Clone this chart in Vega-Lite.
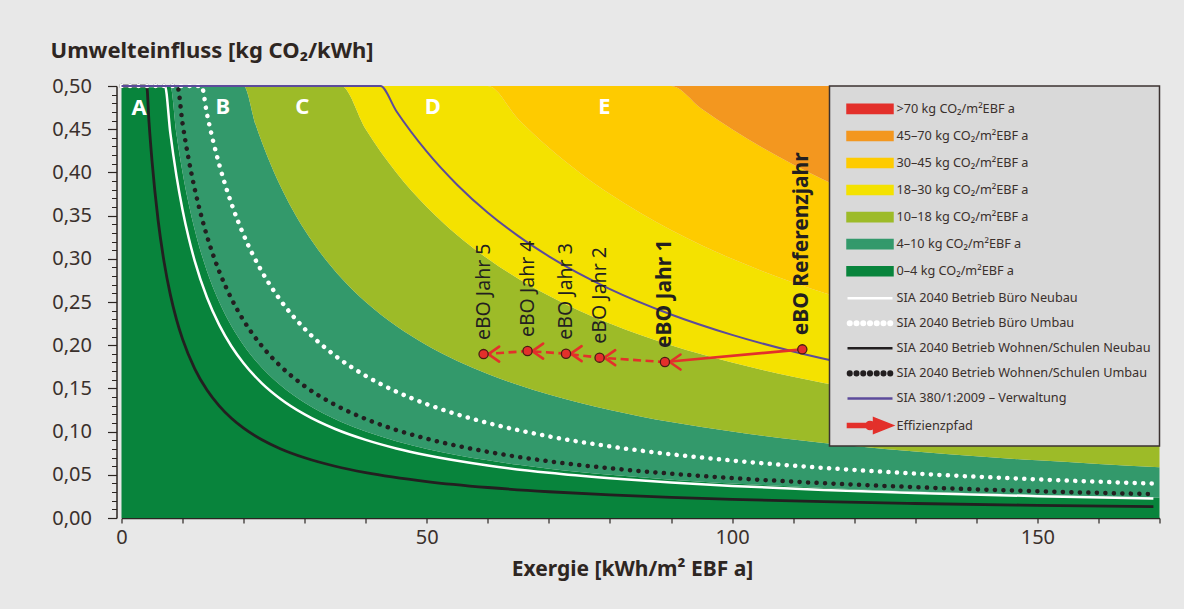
{
  "$schema": "https://vega.github.io/schema/vega-lite/v6.json",
  "width": 1038,
  "height": 432,
  "autosize": {"type": "none"},
  "padding": {"left": 121.5, "top": 86, "right": 24.5, "bottom": 91},
  "background": "#e8e8e8",
  "config": {
    "view": {"stroke": null},
    "font": "Noto Sans",
    "legend": {"strokeWidth": 1.5}
  },
  "datasets": {
    "bands": [
      {"x": 0, "c4": 0.5, "c10": 0.5, "c18": 0.5, "c30": 0.5, "c45": 0.5, "c70": 0.5},
      {"x": 8, "c4": 0.5, "c10": 0.5, "c18": 0.5, "c30": 0.5, "c45": 0.5, "c70": 0.5},
      {"x": 9, "c4": 0.4444, "c10": 0.5, "c18": 0.5, "c30": 0.5, "c45": 0.5, "c70": 0.5},
      {"x": 10, "c4": 0.4, "c10": 0.5, "c18": 0.5, "c30": 0.5, "c45": 0.5, "c70": 0.5},
      {"x": 11, "c4": 0.3636, "c10": 0.5, "c18": 0.5, "c30": 0.5, "c45": 0.5, "c70": 0.5},
      {"x": 12, "c4": 0.3333, "c10": 0.5, "c18": 0.5, "c30": 0.5, "c45": 0.5, "c70": 0.5},
      {"x": 13, "c4": 0.3077, "c10": 0.5, "c18": 0.5, "c30": 0.5, "c45": 0.5, "c70": 0.5},
      {"x": 14, "c4": 0.2857, "c10": 0.5, "c18": 0.5, "c30": 0.5, "c45": 0.5, "c70": 0.5},
      {"x": 16, "c4": 0.25, "c10": 0.5, "c18": 0.5, "c30": 0.5, "c45": 0.5, "c70": 0.5},
      {"x": 18, "c4": 0.2222, "c10": 0.5, "c18": 0.5, "c30": 0.5, "c45": 0.5, "c70": 0.5},
      {"x": 20, "c4": 0.2, "c10": 0.5, "c18": 0.5, "c30": 0.5, "c45": 0.5, "c70": 0.5},
      {"x": 22, "c4": 0.1818, "c10": 0.4545, "c18": 0.5, "c30": 0.5, "c45": 0.5, "c70": 0.5},
      {"x": 24, "c4": 0.1667, "c10": 0.4167, "c18": 0.5, "c30": 0.5, "c45": 0.5, "c70": 0.5},
      {"x": 26, "c4": 0.1538, "c10": 0.3846, "c18": 0.5, "c30": 0.5, "c45": 0.5, "c70": 0.5},
      {"x": 28, "c4": 0.1429, "c10": 0.3571, "c18": 0.5, "c30": 0.5, "c45": 0.5, "c70": 0.5},
      {"x": 30, "c4": 0.1333, "c10": 0.3333, "c18": 0.5, "c30": 0.5, "c45": 0.5, "c70": 0.5},
      {"x": 33, "c4": 0.1212, "c10": 0.303, "c18": 0.5, "c30": 0.5, "c45": 0.5, "c70": 0.5},
      {"x": 36, "c4": 0.1111, "c10": 0.2778, "c18": 0.5, "c30": 0.5, "c45": 0.5, "c70": 0.5},
      {"x": 40, "c4": 0.1, "c10": 0.25, "c18": 0.45, "c30": 0.5, "c45": 0.5, "c70": 0.5},
      {"x": 45, "c4": 0.0889, "c10": 0.2222, "c18": 0.4, "c30": 0.5, "c45": 0.5, "c70": 0.5},
      {"x": 50, "c4": 0.08, "c10": 0.2, "c18": 0.36, "c30": 0.5, "c45": 0.5, "c70": 0.5},
      {"x": 55, "c4": 0.0727, "c10": 0.1818, "c18": 0.3273, "c30": 0.5, "c45": 0.5, "c70": 0.5},
      {"x": 60, "c4": 0.0667, "c10": 0.1667, "c18": 0.3, "c30": 0.5, "c45": 0.5, "c70": 0.5},
      {"x": 65, "c4": 0.0615, "c10": 0.1538, "c18": 0.2769, "c30": 0.4615, "c45": 0.5, "c70": 0.5},
      {"x": 70, "c4": 0.0571, "c10": 0.1429, "c18": 0.2571, "c30": 0.4286, "c45": 0.5, "c70": 0.5},
      {"x": 75, "c4": 0.0533, "c10": 0.1333, "c18": 0.24, "c30": 0.4, "c45": 0.5, "c70": 0.5},
      {"x": 80, "c4": 0.05, "c10": 0.125, "c18": 0.225, "c30": 0.375, "c45": 0.5, "c70": 0.5},
      {"x": 85, "c4": 0.0471, "c10": 0.1176, "c18": 0.2118, "c30": 0.3529, "c45": 0.5, "c70": 0.5},
      {"x": 90, "c4": 0.0444, "c10": 0.1111, "c18": 0.2, "c30": 0.3333, "c45": 0.5, "c70": 0.5},
      {"x": 95, "c4": 0.0421, "c10": 0.1053, "c18": 0.1895, "c30": 0.3158, "c45": 0.4737, "c70": 0.5},
      {"x": 100, "c4": 0.04, "c10": 0.1, "c18": 0.18, "c30": 0.3, "c45": 0.45, "c70": 0.5},
      {"x": 105, "c4": 0.0381, "c10": 0.0952, "c18": 0.1714, "c30": 0.2857, "c45": 0.4286, "c70": 0.5},
      {"x": 110, "c4": 0.0364, "c10": 0.0909, "c18": 0.1636, "c30": 0.2727, "c45": 0.4091, "c70": 0.5},
      {"x": 120, "c4": 0.0333, "c10": 0.0833, "c18": 0.15, "c30": 0.25, "c45": 0.375, "c70": 0.5},
      {"x": 130, "c4": 0.0308, "c10": 0.0769, "c18": 0.1385, "c30": 0.2308, "c45": 0.3462, "c70": 0.5},
      {"x": 140, "c4": 0.0286, "c10": 0.0714, "c18": 0.1286, "c30": 0.2143, "c45": 0.3214, "c70": 0.5},
      {"x": 150, "c4": 0.0267, "c10": 0.0667, "c18": 0.12, "c30": 0.2, "c45": 0.3, "c70": 0.4667},
      {"x": 160, "c4": 0.025, "c10": 0.0625, "c18": 0.1125, "c30": 0.1875, "c45": 0.2813, "c70": 0.4375},
      {"x": 170, "c4": 0.0235, "c10": 0.0588, "c18": 0.1059, "c30": 0.1765, "c45": 0.2647, "c70": 0.4118}
    ],
    "lines": [
      {"s": "wn", "x": 0, "y": 0.5}, {"s": "wn", "x": 4.13, "y": 0.5}, {"s": "wn", "x": 4.5, "y": 0.4588},
      {"s": "wn", "x": 5, "y": 0.413}, {"s": "wn", "x": 6, "y": 0.3443}, {"s": "wn", "x": 7, "y": 0.2953},
      {"s": "wn", "x": 8, "y": 0.2585}, {"s": "wn", "x": 9, "y": 0.2299}, {"s": "wn", "x": 10, "y": 0.207},
      {"s": "wn", "x": 12, "y": 0.1727}, {"s": "wn", "x": 14, "y": 0.1481}, {"s": "wn", "x": 16, "y": 0.1298},
      {"s": "wn", "x": 18, "y": 0.1154}, {"s": "wn", "x": 20, "y": 0.104}, {"s": "wn", "x": 23, "y": 0.0906},
      {"s": "wn", "x": 26, "y": 0.0802}, {"s": "wn", "x": 30, "y": 0.0697}, {"s": "wn", "x": 35, "y": 0.0599},
      {"s": "wn", "x": 40, "y": 0.0525}, {"s": "wn", "x": 50, "y": 0.0422}, {"s": "wn", "x": 60, "y": 0.0353},
      {"s": "wn", "x": 70, "y": 0.0304}, {"s": "wn", "x": 80, "y": 0.0268}, {"s": "wn", "x": 90, "y": 0.0239},
      {"s": "wn", "x": 100, "y": 0.0216}, {"s": "wn", "x": 115, "y": 0.0189}, {"s": "wn", "x": 130, "y": 0.0168},
      {"s": "wn", "x": 150, "y": 0.0147}, {"s": "wn", "x": 169, "y": 0.0132},
      {"s": "bn", "x": 0, "y": 0.5}, {"s": "bn", "x": 7.12, "y": 0.5}, {"s": "bn", "x": 8, "y": 0.4454},
      {"s": "bn", "x": 9, "y": 0.396}, {"s": "bn", "x": 10, "y": 0.3566}, {"s": "bn", "x": 11, "y": 0.3243},
      {"s": "bn", "x": 12, "y": 0.2974}, {"s": "bn", "x": 14, "y": 0.2552}, {"s": "bn", "x": 16, "y": 0.2235},
      {"s": "bn", "x": 18, "y": 0.1988}, {"s": "bn", "x": 20, "y": 0.1791}, {"s": "bn", "x": 23, "y": 0.1559},
      {"s": "bn", "x": 26, "y": 0.1381}, {"s": "bn", "x": 30, "y": 0.1199}, {"s": "bn", "x": 35, "y": 0.103},
      {"s": "bn", "x": 40, "y": 0.0904}, {"s": "bn", "x": 45, "y": 0.0805}, {"s": "bn", "x": 50, "y": 0.0726},
      {"s": "bn", "x": 60, "y": 0.0608}, {"s": "bn", "x": 70, "y": 0.0523}, {"s": "bn", "x": 80, "y": 0.046},
      {"s": "bn", "x": 90, "y": 0.041}, {"s": "bn", "x": 100, "y": 0.0371}, {"s": "bn", "x": 115, "y": 0.0325},
      {"s": "bn", "x": 130, "y": 0.0289}, {"s": "bn", "x": 150, "y": 0.0253}, {"s": "bn", "x": 169, "y": 0.0226},
      {"s": "wu", "x": 0, "y": 0.5}, {"s": "wu", "x": 9.13, "y": 0.5}, {"s": "wu", "x": 10, "y": 0.4566},
      {"s": "wu", "x": 11, "y": 0.4151}, {"s": "wu", "x": 12, "y": 0.3806}, {"s": "wu", "x": 13, "y": 0.3514},
      {"s": "wu", "x": 14, "y": 0.3263}, {"s": "wu", "x": 16, "y": 0.2856}, {"s": "wu", "x": 18, "y": 0.2539},
      {"s": "wu", "x": 20, "y": 0.2286}, {"s": "wu", "x": 23, "y": 0.1989}, {"s": "wu", "x": 26, "y": 0.176},
      {"s": "wu", "x": 30, "y": 0.1526}, {"s": "wu", "x": 35, "y": 0.1309}, {"s": "wu", "x": 40, "y": 0.1146},
      {"s": "wu", "x": 45, "y": 0.1019}, {"s": "wu", "x": 50, "y": 0.0918}, {"s": "wu", "x": 60, "y": 0.0766},
      {"s": "wu", "x": 70, "y": 0.0657}, {"s": "wu", "x": 80, "y": 0.0576}, {"s": "wu", "x": 90, "y": 0.0513},
      {"s": "wu", "x": 100, "y": 0.0462}, {"s": "wu", "x": 115, "y": 0.0403}, {"s": "wu", "x": 130, "y": 0.0357},
      {"s": "wu", "x": 150, "y": 0.031}, {"s": "wu", "x": 169, "y": 0.0276},
      {"s": "bu", "x": 0, "y": 0.5}, {"s": "bu", "x": 13.09, "y": 0.5}, {"s": "bu", "x": 14, "y": 0.4676},
      {"s": "bu", "x": 15, "y": 0.4365}, {"s": "bu", "x": 16, "y": 0.4093}, {"s": "bu", "x": 18, "y": 0.364},
      {"s": "bu", "x": 20, "y": 0.3277}, {"s": "bu", "x": 23, "y": 0.2851}, {"s": "bu", "x": 26, "y": 0.2524},
      {"s": "bu", "x": 30, "y": 0.2189}, {"s": "bu", "x": 35, "y": 0.1878}, {"s": "bu", "x": 40, "y": 0.1645},
      {"s": "bu", "x": 45, "y": 0.1463}, {"s": "bu", "x": 50, "y": 0.1318}, {"s": "bu", "x": 55, "y": 0.1199},
      {"s": "bu", "x": 60, "y": 0.11}, {"s": "bu", "x": 70, "y": 0.0945}, {"s": "bu", "x": 80, "y": 0.0828},
      {"s": "bu", "x": 90, "y": 0.0738}, {"s": "bu", "x": 100, "y": 0.0665}, {"s": "bu", "x": 115, "y": 0.058},
      {"s": "bu", "x": 130, "y": 0.0514}, {"s": "bu", "x": 150, "y": 0.0447}, {"s": "bu", "x": 169, "y": 0.0398},
      {"s": "v", "x": 0, "y": 0.5}, {"s": "v", "x": 42.4, "y": 0.5}, {"s": "v", "x": 45, "y": 0.4711},
      {"s": "v", "x": 50, "y": 0.424}, {"s": "v", "x": 55, "y": 0.3855}, {"s": "v", "x": 60, "y": 0.3533},
      {"s": "v", "x": 65, "y": 0.3262}, {"s": "v", "x": 70, "y": 0.3029}, {"s": "v", "x": 80, "y": 0.265},
      {"s": "v", "x": 90, "y": 0.2356}, {"s": "v", "x": 100, "y": 0.212}, {"s": "v", "x": 110, "y": 0.1927},
      {"s": "v", "x": 120, "y": 0.1767}, {"s": "v", "x": 130, "y": 0.1631}, {"s": "v", "x": 140, "y": 0.1514},
      {"s": "v", "x": 150, "y": 0.1413}, {"s": "v", "x": 160, "y": 0.1325}, {"s": "v", "x": 169, "y": 0.1254}
    ],
    "path": [
      {"p": "eBO Referenzjahr", "x": 111.5, "y": 0.1952},
      {"p": "eBO Jahr 1", "x": 89.0, "y": 0.1805},
      {"p": "eBO Jahr 2", "x": 78.3, "y": 0.1856},
      {"p": "eBO Jahr 3", "x": 72.8, "y": 0.1902},
      {"p": "eBO Jahr 4", "x": 66.5, "y": 0.1932},
      {"p": "eBO Jahr 5", "x": 59.3, "y": 0.1897}
    ],
    "zones": [
      {"z": "A", "x": 2.9, "y": 0.474},
      {"z": "B", "x": 16.6, "y": 0.476},
      {"z": "C", "x": 29.6, "y": 0.476},
      {"z": "D", "x": 51.0, "y": 0.476},
      {"z": "E", "x": 79.1, "y": 0.476}
    ]
  },
  "encoding": {
    "x": {
      "field": "x",
      "type": "quantitative",
      "scale": {"domain": [0, 170], "nice": false, "zero": false},
      "axis": {
        "values": [0, 10, 20, 30, 40, 50, 60, 70, 80, 90, 100, 110, 120, 130, 140, 150, 160, 170],
        "labelExpr": "datum.value % 50 === 0 ? datum.label : ''",
        "tickSize": 5, "tickColor": "#2b2522", "tickWidth": 1.2,
        "domainColor": "#2b2522", "domainWidth": 1.5,
        "labelFontSize": 20, "labelColor": "#3a302c", "labelPadding": 4,
        "labelOverlap": false, "labelFlush": false, "grid": false,
        "title": "Exergie [kWh/m² EBF a]",
        "titleFontSize": 21, "titleFontWeight": "bold", "titleColor": "#2e2622",
        "titleX": 510.5, "titleY": 57, "titleAlign": "center", "titleBaseline": "alphabetic"
      }
    }
  },
  "layer": [
    {
      "data": {"name": "bands"},
      "mark": {"type": "area", "interpolate": "monotone"},
      "encoding": {
        "y": {
          "field": "c4", "type": "quantitative",
          "scale": {"domain": [0, 0.5], "nice": false, "zero": false},
          "axis": {
            "orient": "left",
            "values": [0, 0.05, 0.1, 0.15, 0.2, 0.25, 0.3, 0.35, 0.4, 0.45, 0.5],
            "labelExpr": "replace(format(datum.value, '.2f'), '.', ',')",
            "offset": 5, "tickSize": 9, "tickColor": "#2b2522", "tickWidth": 1.2,
            "domainColor": "#2b2522", "domainWidth": 1.5,
            "labelFontSize": 20, "labelColor": "#3a302c", "labelPadding": 16,
            "labelOverlap": false, "labelFlush": false, "grid": false,
            "title": "Umwelteinfluss [kg CO₂/kWh]",
            "titleAngle": 0, "titleAlign": "left", "titleBaseline": "alphabetic",
            "titleX": -66.5, "titleY": -29,
            "titleFontSize": 22, "titleFontWeight": "bold", "titleColor": "#2e2622"
          }
        },
        "y2": {"datum": 0},
        "color": {
          "datum": "0–4 kg CO₂/m²EBF a",
          "type": "nominal",
          "scale": {
            "domain": [
              ">70 kg CO₂/m²EBF a",
              "45–70 kg CO₂/m²EBF a",
              "30–45 kg CO₂/m²EBF a",
              "18–30 kg CO₂/m²EBF a",
              "10–18 kg CO₂/m²EBF a",
              "4–10 kg CO₂/m²EBF a",
              "0–4 kg CO₂/m²EBF a",
              "SIA 2040 Betrieb Büro Neubau",
              "SIA 2040 Betrieb Büro Umbau",
              "SIA 2040 Betrieb Wohnen/Schulen Neubau",
              "SIA 2040 Betrieb Wohnen/Schulen Umbau",
              "SIA 380/1:2009 – Verwaltung",
              "Effizienzpfad"
            ],
            "range": ["#e3302b", "#f3971f", "#fecb00", "#f4e200", "#9dbb28", "#33996b", "#08843c", "#ffffff", "#ffffff", "#231f20", "#231f20", "#5c4b9b", "#e3302b"]
          },
          "legend": {
            "title": " ",
            "titleFontSize": 1,
            "titlePadding": 3.4,
            "orient": "top-right",
            "offset": 0,
            "padding": 8,
            "fillColor": "#d9d9d9",
            "strokeColor": "#3b3230",
            "symbolSize": 324,
            "symbolStrokeWidth": 2.5,
            "symbolOpacity": 1,
            "symbolOffset": 22,
            "labelOffset": 16,
            "labelFontSize": 12.7,
            "labelColor": "#3a302c",
            "labelLimit": 400,
            "rowPadding": 7.05,
            "encode": {
              "symbols": {
                "update": {
                  "shape": {"signal": "indexof(datum.value,'kg')>=0 ? 'M-2.5,-0.45H2.5V0.45H-2.5Z' : indexof(datum.value,'Umbau')>=0 ? 'M-2.45,0a0.2,0.2 0 1,1 0.4,0a0.2,0.2 0 1,1 -0.4,0Z M-1.7,0a0.2,0.2 0 1,1 0.4,0a0.2,0.2 0 1,1 -0.4,0Z M-0.95,0a0.2,0.2 0 1,1 0.4,0a0.2,0.2 0 1,1 -0.4,0Z M-0.2,0a0.2,0.2 0 1,1 0.4,0a0.2,0.2 0 1,1 -0.4,0Z M0.55,0a0.2,0.2 0 1,1 0.4,0a0.2,0.2 0 1,1 -0.4,0Z M1.3,0a0.2,0.2 0 1,1 0.4,0a0.2,0.2 0 1,1 -0.4,0Z M2.05,0a0.2,0.2 0 1,1 0.4,0a0.2,0.2 0 1,1 -0.4,0Z' : datum.value==='Effizienzpfad' ? 'M-2.45,-0.17H0.6V0.17H-2.45Z M0.45,-0.8L2.45,0L0.45,0.8Z M-0.4,0a0.4,0.4 0 1,1 0.8,0a0.4,0.4 0 1,1 -0.8,0Z' : 'M-2.5,0H2.5'"},
                  "fill": {"signal": "indexof(datum.value,'kg')>=0 || indexof(datum.value,'Umbau')>=0 || datum.value==='Effizienzpfad' ? scale('color', datum.value) : 'transparent'"},
                  "stroke": {"signal": "indexof(datum.value,'kg')<0 && indexof(datum.value,'Umbau')<0 && datum.value!=='Effizienzpfad' ? scale('color', datum.value) : 'transparent'"},
                  "opacity": {"value": 1}
                }
              }
            }
          }
        }
      }
    },
    {
      "data": {"name": "bands"},
      "mark": {"type": "area", "interpolate": "monotone"},
      "encoding": {
        "y": {"field": "c10", "type": "quantitative", "axis": null},
        "y2": {"field": "c4"},
        "color": {"datum": "4–10 kg CO₂/m²EBF a", "type": "nominal"}
      }
    },
    {
      "data": {"name": "bands"},
      "mark": {"type": "area", "interpolate": "monotone"},
      "encoding": {
        "y": {"field": "c18", "type": "quantitative", "axis": null},
        "y2": {"field": "c10"},
        "color": {"datum": "10–18 kg CO₂/m²EBF a", "type": "nominal"}
      }
    },
    {
      "data": {"name": "bands"},
      "mark": {"type": "area", "interpolate": "monotone"},
      "encoding": {
        "y": {"field": "c30", "type": "quantitative", "axis": null},
        "y2": {"field": "c18"},
        "color": {"datum": "18–30 kg CO₂/m²EBF a", "type": "nominal"}
      }
    },
    {
      "data": {"name": "bands"},
      "mark": {"type": "area", "interpolate": "monotone"},
      "encoding": {
        "y": {"field": "c45", "type": "quantitative", "axis": null},
        "y2": {"field": "c30"},
        "color": {"datum": "30–45 kg CO₂/m²EBF a", "type": "nominal"}
      }
    },
    {
      "data": {"name": "bands"},
      "mark": {"type": "area", "interpolate": "monotone"},
      "encoding": {
        "y": {"field": "c70", "type": "quantitative", "axis": null},
        "y2": {"field": "c45"},
        "color": {"datum": "45–70 kg CO₂/m²EBF a", "type": "nominal"}
      }
    },
    {
      "data": {"name": "bands"},
      "mark": {"type": "area", "interpolate": "monotone"},
      "encoding": {
        "y": {"field": "c70", "type": "quantitative", "axis": null},
        "y2": {"datum": 0.5},
        "color": {"datum": ">70 kg CO₂/m²EBF a", "type": "nominal"}
      }
    },
    {
      "data": {"name": "lines"},
      "transform": [{"filter": "datum.s === 'wn'"}],
      "mark": {"type": "line", "interpolate": "monotone", "strokeWidth": 2.8},
      "encoding": {
        "y": {
          "field": "y", "type": "quantitative",
          "axis": {
            "orient": "left",
            "values": [0, 0.01, 0.02, 0.03, 0.04, 0.05, 0.06, 0.07, 0.08, 0.09, 0.1, 0.11, 0.12, 0.13, 0.14, 0.15, 0.16, 0.17, 0.18, 0.19, 0.2, 0.21, 0.22, 0.23, 0.24, 0.25, 0.26, 0.27, 0.28, 0.29, 0.3, 0.31, 0.32, 0.33, 0.34, 0.35, 0.36, 0.37, 0.38, 0.39, 0.4, 0.41, 0.42, 0.43, 0.44, 0.45, 0.46, 0.47, 0.48, 0.49, 0.5],
            "labels": false, "domain": false, "grid": false,
            "offset": 5, "tickSize": 5, "tickColor": "#2b2522", "tickWidth": 1,
            "title": null
          }
        },
        "color": {"datum": "SIA 2040 Betrieb Wohnen/Schulen Neubau", "type": "nominal"}
      }
    },
    {
      "data": {"name": "lines"},
      "transform": [{"filter": "datum.s === 'bn'"}],
      "mark": {"type": "line", "interpolate": "monotone", "strokeWidth": 2.5},
      "encoding": {
        "y": {"field": "y", "type": "quantitative", "axis": null},
        "color": {"datum": "SIA 2040 Betrieb Büro Neubau", "type": "nominal"}
      }
    },
    {
      "data": {"name": "lines"},
      "transform": [{"filter": "datum.s === 'wu'"}],
      "mark": {"type": "line", "interpolate": "monotone", "strokeWidth": 4.5, "strokeDash": [0.1, 8.4], "strokeCap": "round"},
      "encoding": {
        "y": {"field": "y", "type": "quantitative", "axis": null},
        "color": {"datum": "SIA 2040 Betrieb Wohnen/Schulen Umbau", "type": "nominal"}
      }
    },
    {
      "data": {"name": "lines"},
      "transform": [{"filter": "datum.s === 'bu'"}],
      "mark": {"type": "line", "interpolate": "monotone", "strokeWidth": 4.5, "strokeDash": [0.1, 8.4], "strokeCap": "round"},
      "encoding": {
        "y": {"field": "y", "type": "quantitative", "axis": null},
        "color": {"datum": "SIA 2040 Betrieb Büro Umbau", "type": "nominal"}
      }
    },
    {
      "data": {"name": "lines"},
      "transform": [{"filter": "datum.s === 'v'"}],
      "mark": {"type": "line", "interpolate": "monotone", "strokeWidth": 2},
      "encoding": {
        "y": {"field": "y", "type": "quantitative", "axis": null},
        "color": {"datum": "SIA 380/1:2009 – Verwaltung", "type": "nominal"}
      }
    },
    {
      "data": {"name": "path"},
      "transform": [{"filter": "datum.p === 'eBO Referenzjahr' || datum.p === 'eBO Jahr 1'"}],
      "mark": {"type": "line", "color": "#e3302b", "strokeWidth": 2.6},
      "encoding": {
        "y": {"field": "y", "type": "quantitative", "axis": null}
      }
    },
    {
      "data": {"name": "path"},
      "transform": [{"filter": "datum.p !== 'eBO Referenzjahr'"}],
      "mark": {"type": "line", "color": "#e3302b", "strokeWidth": 2.6, "strokeDash": [8, 4.5]},
      "encoding": {
        "y": {"field": "y", "type": "quantitative", "axis": null}
      }
    },
    {
      "data": {"name": "path"},
      "transform": [{"filter": "datum.p !== 'eBO Referenzjahr'"}],
      "mark": {"type": "point", "shape": "M2.6,-1.25L0.8,0L2.6,1.25", "filled": false, "stroke": "#e3302b", "strokeWidth": 2.6, "size": 144, "opacity": 1, "strokeCap": "round", "strokeJoin": "round"},
      "encoding": {
        "y": {"field": "y", "type": "quantitative", "axis": null}
      }
    },
    {
      "data": {"name": "path"},
      "mark": {"type": "point", "shape": "circle", "filled": true, "fill": "#e3302b", "stroke": "#4a1c14", "strokeWidth": 1.3, "size": 85, "opacity": 1},
      "encoding": {
        "y": {"field": "y", "type": "quantitative", "axis": null}
      }
    },
    {
      "data": {"name": "path"},
      "transform": [{"filter": "datum.p === 'eBO Referenzjahr' || datum.p === 'eBO Jahr 1'"}],
      "mark": {"type": "text", "angle": 270, "align": "left", "baseline": "middle", "dx": 14, "fontSize": 21, "fontWeight": "bold", "color": "#231f20"},
      "encoding": {
        "y": {"field": "y", "type": "quantitative", "axis": null},
        "text": {"field": "p"}
      }
    },
    {
      "data": {"name": "path"},
      "transform": [{"filter": "datum.p !== 'eBO Referenzjahr' && datum.p !== 'eBO Jahr 1'"}],
      "mark": {"type": "text", "angle": 270, "align": "left", "baseline": "middle", "dx": 14, "fontSize": 19.5, "color": "#231f20"},
      "encoding": {
        "y": {"field": "y", "type": "quantitative", "axis": null},
        "text": {"field": "p"}
      }
    },
    {
      "data": {"name": "zones"},
      "mark": {"type": "text", "align": "center", "baseline": "middle", "fontSize": 22, "fontWeight": "bold", "color": "#ffffff"},
      "encoding": {
        "y": {"field": "y", "type": "quantitative", "axis": null},
        "text": {"field": "z"}
      }
    }
  ],
  "resolve": {"axis": {"y": "independent"}}
}
